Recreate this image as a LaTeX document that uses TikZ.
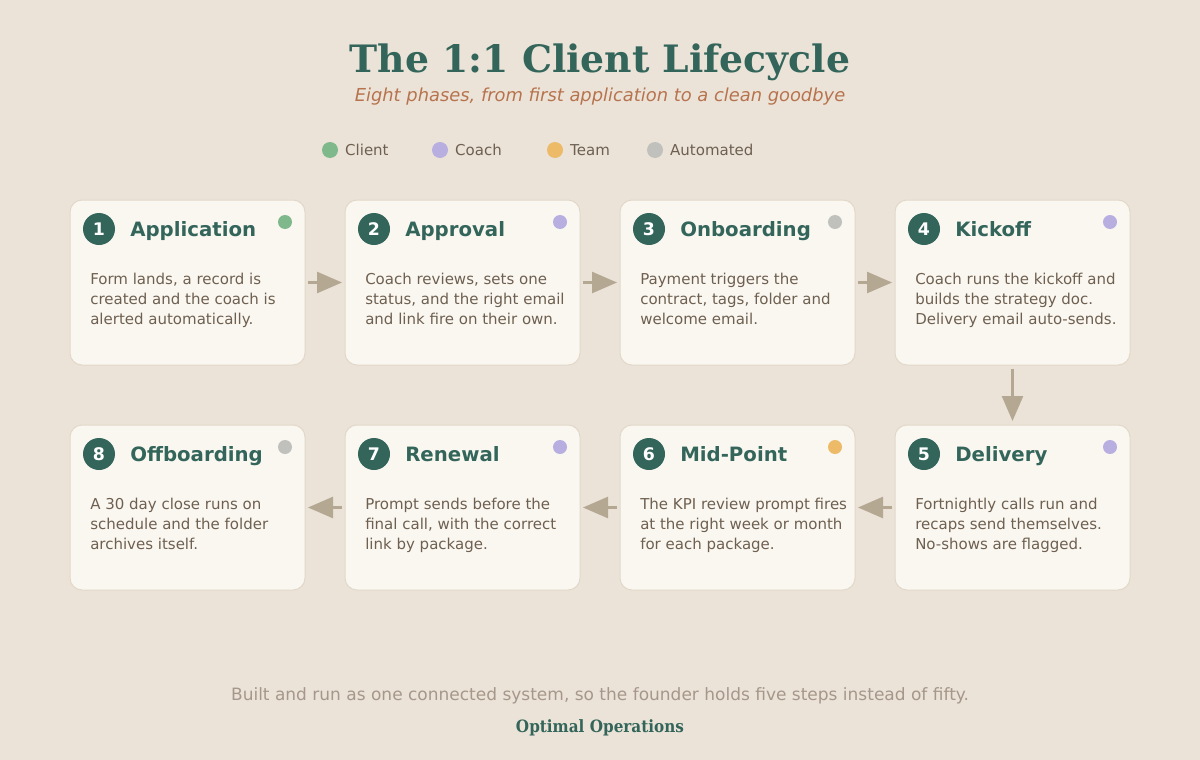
\documentclass[tikz,border=0pt]{standalone}
\usepackage{fontspec}
\setmainfont{DejaVu Sans}
\newfontfamily\headfont{DejaVu Serif}
\newfontfamily\brandfont[FakeStretch=0.9]{DejaVu Serif}
\usepackage{tikz}
\usetikzlibrary{arrows.meta,positioning,calc}

\definecolor{paper}{HTML}{EBE3D8}
\definecolor{cardfill}{HTML}{FAF7F1}
\definecolor{cardline}{HTML}{E2D8C9}
\definecolor{pine}{HTML}{33655A}
\definecolor{clay}{HTML}{B7734D}
\definecolor{bodytext}{HTML}{6E6050}
\definecolor{faded}{HTML}{A6978A}
\definecolor{arrowtan}{HTML}{B4A893}
\definecolor{clientdot}{HTML}{7FB98B}
\definecolor{coachdot}{HTML}{B8AEE0}
\definecolor{teamdot}{HTML}{EDBA68}
\definecolor{autodot}{HTML}{C0C1BD}

\tikzset{
  phase/.style={draw=cardline, fill=cardfill, line width=0.75pt, rounded corners=9pt,
    minimum width=176.25pt, minimum height=123.75pt, inner sep=0pt, outer sep=0pt},
  num/.style={circle, fill=pine, minimum size=24pt, inner sep=0pt,
    text=white, font=\fontsize{13}{14}\selectfont\bfseries},
  phasetitle/.style={inner sep=0pt, anchor=base west, text=pine,
    font=\fontsize{14.8}{18}\selectfont\bfseries},
  blurb/.style={inner sep=0pt, anchor=north west, align=left, text=bodytext,
    font=\fontsize{11.25}{15}\selectfont},
  who/.style={circle, minimum size=10.5pt, inner sep=0pt},
  key/.style={circle, minimum size=12pt, inner sep=0pt},
  keytext/.style={inner sep=0pt, text=bodytext, font=\fontsize{11.25}{14}\selectfont},
  flow/.style={draw=arrowtan, line width=1.9pt, shorten >=2.25pt, shorten <=2.25pt,
    -{Triangle[length=18.75pt,width=15.75pt]}}
}

\begin{document}
\begin{tikzpicture}[x=0.75pt, y=-0.75pt]
  \fill[paper] (0,0) rectangle (1200,760);
  \useasboundingbox (0,0) rectangle (1200,760);

  %% heading
  \node (heading) [anchor=base, inner sep=0pt, text=pine, font=\headfont\fontsize{28.3}{32}\selectfont\bfseries]
    at (600,72) {The 1:1 Client Lifecycle};
  \node (subheading) [anchor=base, inner sep=0pt, text=clay, font=\fontsize{13.4}{15}\selectfont\itshape]
    at (600,101) {Eight phases, from first application to a clean goodbye};

  %% legend
  \node (client-key) [key, fill=clientdot] at (330,150) {};
  \node (client-lbl) [keytext, right=5pt of client-key] {Client};
  \node (coach-key) [key, fill=coachdot] at (440,150) {};
  \node (coach-lbl) [keytext, right=5pt of coach-key] {Coach};
  \node (team-key) [key, fill=teamdot] at (555,150) {};
  \node (team-lbl) [keytext, right=5pt of team-key] {Team};
  \node (auto-key) [key, fill=autodot] at (655,150) {};
  \node (auto-lbl) [keytext, right=5pt of auto-key] {Automated};

  %% cards
  \node (application) [phase] at (187.5,282.5) {};
  \node (approval) [phase, right=30pt of application] {};
  \node (onboarding) [phase, right=30pt of approval] {};
  \node (kickoff) [phase, right=30pt of onboarding] {};
  \node (delivery) [phase, below=45pt of kickoff] {};
  \node (midpoint) [phase, left=30pt of delivery] {};
  \node (renewal) [phase, left=30pt of midpoint] {};
  \node (offboarding) [phase, left=30pt of renewal] {};

  %% 1
  \node (application-num) [num] at ([shift={(29,29)}]application.north west) {1};
  \node (application-title) [phasetitle] at ([shift={(60,36)}]application.north west) {Application};
  \node (application-who) [who, fill=clientdot] at ([shift={(-20,22)}]application.north east) {};
  \node (application-text) [blurb] at ([shift={(20,73)}]application.north west)
    {Form lands, a record is\\created and the coach is\\alerted automatically.};
  %% 2
  \node (approval-num) [num] at ([shift={(29,29)}]approval.north west) {2};
  \node (approval-title) [phasetitle] at ([shift={(60,36)}]approval.north west) {Approval};
  \node (approval-who) [who, fill=coachdot] at ([shift={(-20,22)}]approval.north east) {};
  \node (approval-text) [blurb] at ([shift={(20,73)}]approval.north west)
    {Coach reviews, sets one\\status, and the right email\\and link fire on their own.};
  %% 3
  \node (onboarding-num) [num] at ([shift={(29,29)}]onboarding.north west) {3};
  \node (onboarding-title) [phasetitle] at ([shift={(60,36)}]onboarding.north west) {Onboarding};
  \node (onboarding-who) [who, fill=autodot] at ([shift={(-20,22)}]onboarding.north east) {};
  \node (onboarding-text) [blurb] at ([shift={(20,73)}]onboarding.north west)
    {Payment triggers the\\contract, tags, folder and\\welcome email.};
  %% 4
  \node (kickoff-num) [num] at ([shift={(29,29)}]kickoff.north west) {4};
  \node (kickoff-title) [phasetitle] at ([shift={(60,36)}]kickoff.north west) {Kickoff};
  \node (kickoff-who) [who, fill=coachdot] at ([shift={(-20,22)}]kickoff.north east) {};
  \node (kickoff-text) [blurb] at ([shift={(20,73)}]kickoff.north west)
    {Coach runs the kickoff and\\builds the strategy doc.\\Delivery email auto-sends.};
  %% 5
  \node (delivery-num) [num] at ([shift={(29,29)}]delivery.north west) {5};
  \node (delivery-title) [phasetitle] at ([shift={(60,36)}]delivery.north west) {Delivery};
  \node (delivery-who) [who, fill=coachdot] at ([shift={(-20,22)}]delivery.north east) {};
  \node (delivery-text) [blurb] at ([shift={(20,73)}]delivery.north west)
    {Fortnightly calls run and\\recaps send themselves.\\No-shows are flagged.};
  %% 6
  \node (midpoint-num) [num] at ([shift={(29,29)}]midpoint.north west) {6};
  \node (midpoint-title) [phasetitle] at ([shift={(60,36)}]midpoint.north west) {Mid-Point};
  \node (midpoint-who) [who, fill=teamdot] at ([shift={(-20,22)}]midpoint.north east) {};
  \node (midpoint-text) [blurb] at ([shift={(20,73)}]midpoint.north west)
    {The KPI review prompt fires\\at the right week or month\\for each package.};
  %% 7
  \node (renewal-num) [num] at ([shift={(29,29)}]renewal.north west) {7};
  \node (renewal-title) [phasetitle] at ([shift={(60,36)}]renewal.north west) {Renewal};
  \node (renewal-who) [who, fill=coachdot] at ([shift={(-20,22)}]renewal.north east) {};
  \node (renewal-text) [blurb] at ([shift={(20,73)}]renewal.north west)
    {Prompt sends before the\\final call, with the correct\\link by package.};
  %% 8
  \node (offboarding-num) [num] at ([shift={(29,29)}]offboarding.north west) {8};
  \node (offboarding-title) [phasetitle] at ([shift={(60,36)}]offboarding.north west) {Offboarding};
  \node (offboarding-who) [who, fill=autodot] at ([shift={(-20,22)}]offboarding.north east) {};
  \node (offboarding-text) [blurb] at ([shift={(20,73)}]offboarding.north west)
    {A 30 day close runs on\\schedule and the folder\\archives itself.};

  %% flow between phases
  \draw[flow] (application.east) -- (approval.west);
  \draw[flow] (approval.east) -- (onboarding.west);
  \draw[flow] (onboarding.east) -- (kickoff.west);
  \draw[flow, shorten <=3pt, shorten >=3pt] (kickoff.south) -- (delivery.north);
  \draw[flow] (delivery.west) -- (midpoint.east);
  \draw[flow] (midpoint.west) -- (renewal.east);
  \draw[flow] (renewal.west) -- (offboarding.east);

  %% footer
  \node (tagline) [anchor=base, inner sep=0pt, text=faded, font=\fontsize{12.75}{15}\selectfont]
    at (600,700) {Built and run as one connected system, so the founder holds five steps instead of fifty.};
  \node (brand) [anchor=base, inner sep=0pt, text=pine, font=\brandfont\fontsize{12.7}{15}\selectfont\bfseries]
    at (600,732) {Optimal Operations};
\end{tikzpicture}
\end{document}
